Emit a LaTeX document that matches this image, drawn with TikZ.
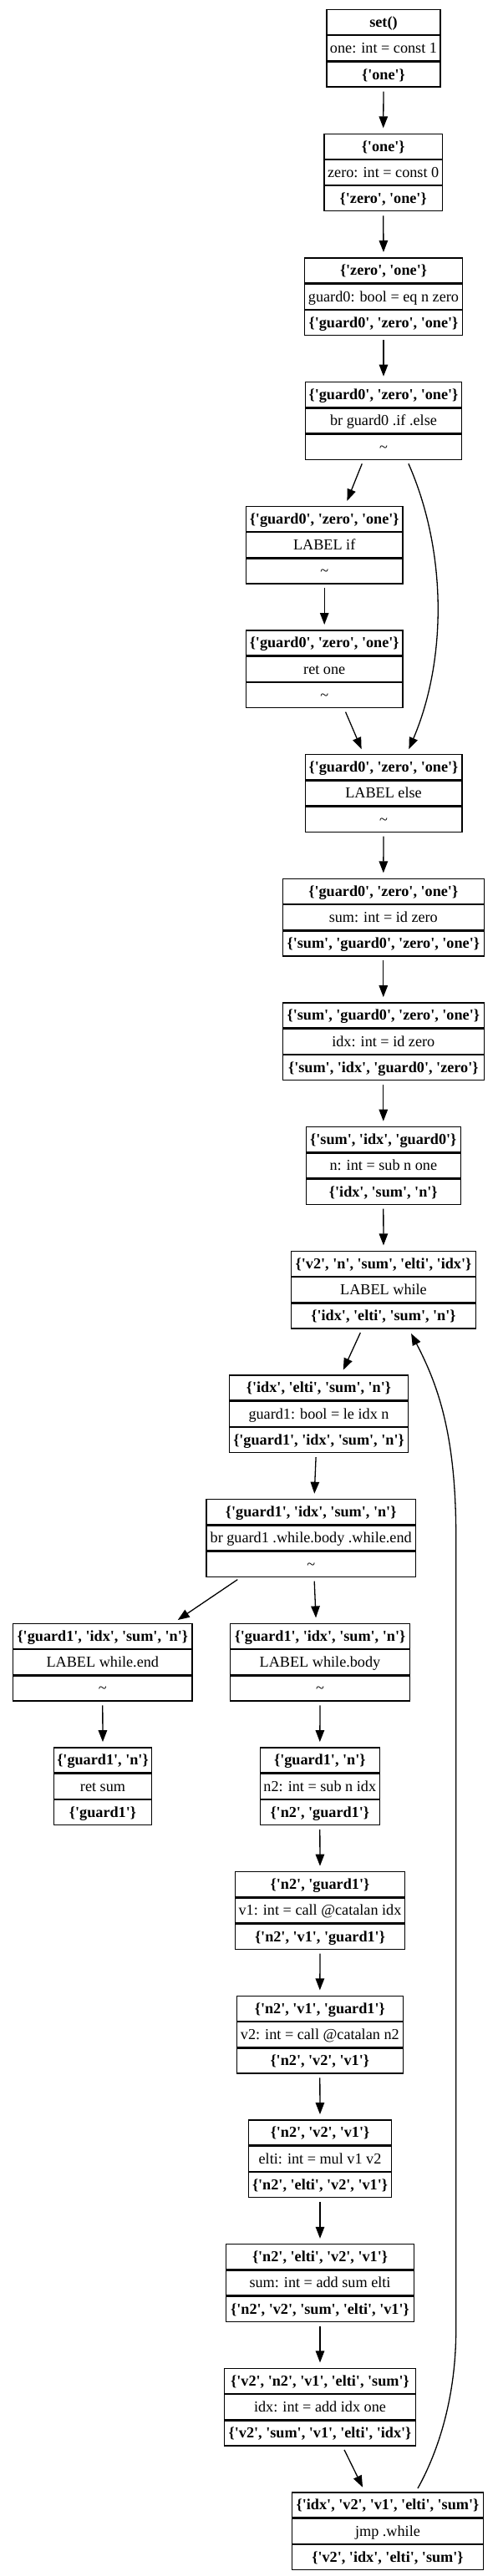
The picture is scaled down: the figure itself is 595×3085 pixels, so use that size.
\documentclass[tikz,border=0pt]{standalone}
\usepackage{fontspec}
\setmainfont{Liberation Serif}
\usetikzlibrary{matrix,arrows.meta}

\newcommand{\blkfont}{\fontsize{18.2}{22}\selectfont}
\newcommand{\lv}[1]{\textquotesingle#1\textquotesingle}
\newcommand{\nul}{\mdseries\textasciitilde}

\tikzset{
  blk/.style={matrix of nodes, anchor=north, inner sep=0pt, row sep=0pt,
    nodes={draw, line width=1.3pt, minimum width=#1, inner xsep=2pt, inner ysep=0pt,
      text height=21pt, text depth=9pt, anchor=center},
    row 1/.style={font=\blkfont\bfseries},
    row 3/.style={font=\blkfont\bfseries}},
  flow/.style={-{Triangle[length=14pt,width=10.5pt]}, line width=1.3pt,
    shorten <=4.7pt, shorten >=6pt}
}

\begin{document}
\begin{tikzpicture}[x=1pt, y=-1pt, font=\blkfont]
  \useasboundingbox (0,0) rectangle (595,3085);

  \matrix[blk=136pt] (one) at (459,10.7) {
    set() \\
    one: int = const 1 \\
    \{\lv{one}\} \\
  };
  \matrix[blk=141.3pt] (zero) at (458.7,159.4) {
    \{\lv{one}\} \\
    zero: int = const 0 \\
    \{\lv{zero}, \lv{one}\} \\
  };
  \matrix[blk=188.6pt] (guard0) at (459,308) {
    \{\lv{zero}, \lv{one}\} \\
    guard0: bool = eq n zero \\
    \{\lv{guard0}, \lv{zero}, \lv{one}\} \\
  };
  \matrix[blk=187.5pt] (br0) at (459,456.7) {
    \{\lv{guard0}, \lv{zero}, \lv{one}\} \\
    br guard0 .if .else \\
    \nul \\
  };
  \matrix[blk=187.7pt] (lif) at (388.2,605.4) {
    \{\lv{guard0}, \lv{zero}, \lv{one}\} \\
    LABEL if \\
    \nul \\
  };
  \matrix[blk=187.7pt] (retone) at (388.2,754) {
    \{\lv{guard0}, \lv{zero}, \lv{one}\} \\
    ret one \\
    \nul \\
  };
  \matrix[blk=187.7pt] (lelse) at (459,902.7) {
    \{\lv{guard0}, \lv{zero}, \lv{one}\} \\
    LABEL else \\
    \nul \\
  };
  \matrix[blk=241pt] (sum) at (458.8,1051.4) {
    \{\lv{guard0}, \lv{zero}, \lv{one}\} \\
    sum: int = id zero \\
    \{\lv{sum}, \lv{guard0}, \lv{zero}, \lv{one}\} \\
  };
  \matrix[blk=241pt] (idx) at (458.8,1200.1) {
    \{\lv{sum}, \lv{guard0}, \lv{zero}, \lv{one}\} \\
    idx: int = id zero \\
    \{\lv{sum}, \lv{idx}, \lv{guard0}, \lv{zero}\} \\
  };
  \matrix[blk=185pt] (n) at (458.8,1348.7) {
    \{\lv{sum}, \lv{idx}, \lv{guard0}\} \\
    n: int = sub n one \\
    \{\lv{idx}, \lv{sum}, \lv{n}\} \\
  };
  \matrix[blk=221.4pt] (lwhile) at (459,1497.4) {
    \{\lv{v2}, \lv{n}, \lv{sum}, \lv{elti}, \lv{idx}\} \\
    LABEL while \\
    \{\lv{idx}, \lv{elti}, \lv{sum}, \lv{n}\} \\
  };
  \matrix[blk=214.4pt] (guard1) at (381.5,1646.1) {
    \{\lv{idx}, \lv{elti}, \lv{sum}, \lv{n}\} \\
    guard1: bool = le idx n \\
    \{\lv{guard1}, \lv{idx}, \lv{sum}, \lv{n}\} \\
  };
  \matrix[blk=250.3pt] (br1) at (372.2,1794.7) {
    \{\lv{guard1}, \lv{idx}, \lv{sum}, \lv{n}\} \\
    br guard1 .while.body .while.end \\
    \nul \\
  };
  \matrix[blk=214.3pt] (lend) at (122.8,1943.4) {
    \{\lv{guard1}, \lv{idx}, \lv{sum}, \lv{n}\} \\
    LABEL while.end \\
    \nul \\
  };
  \matrix[blk=214.6pt] (lbody) at (383,1943.4) {
    \{\lv{guard1}, \lv{idx}, \lv{sum}, \lv{n}\} \\
    LABEL while.body \\
    \nul \\
  };
  \matrix[blk=117.4pt] (retsum) at (123,2092.1) {
    \{\lv{guard1}, \lv{n}\} \\
    ret sum \\
    \{\lv{guard1}\} \\
  };
  \matrix[blk=143pt] (n2) at (382.8,2092.1) {
    \{\lv{guard1}, \lv{n}\} \\
    n2: int = sub n idx \\
    \{\lv{n2}, \lv{guard1}\} \\
  };
  \matrix[blk=202.6pt] (v1) at (383,2240.7) {
    \{\lv{n2}, \lv{guard1}\} \\
    v1: int = call @catalan idx \\
    \{\lv{n2}, \lv{v1}, \lv{guard1}\} \\
  };
  \matrix[blk=199pt] (v2) at (382.8,2389.4) {
    \{\lv{n2}, \lv{v1}, \lv{guard1}\} \\
    v2: int = call @catalan n2 \\
    \{\lv{n2}, \lv{v2}, \lv{v1}\} \\
  };
  \matrix[blk=171.4pt] (elti) at (383,2538.1) {
    \{\lv{n2}, \lv{v2}, \lv{v1}\} \\
    elti: int = mul v1 v2 \\
    \{\lv{n2}, \lv{elti}, \lv{v2}, \lv{v1}\} \\
  };
  \matrix[blk=224.6pt] (sumup) at (383,2686.8) {
    \{\lv{n2}, \lv{elti}, \lv{v2}, \lv{v1}\} \\
    sum: int = add sum elti \\
    \{\lv{n2}, \lv{v2}, \lv{sum}, \lv{elti}, \lv{v1}\} \\
  };
  \matrix[blk=229.4pt] (idxup) at (383,2835.4) {
    \{\lv{v2}, \lv{n2}, \lv{v1}, \lv{elti}, \lv{sum}\} \\
    idx: int = add idx one \\
    \{\lv{v2}, \lv{sum}, \lv{v1}, \lv{elti}, \lv{idx}\} \\
  };
  \matrix[blk=229.4pt] (jmp) at (464,2984.1) {
    \{\lv{idx}, \lv{v2}, \lv{v1}, \lv{elti}, \lv{sum}\} \\
    jmp .while \\
    \{\lv{v2}, \lv{idx}, \lv{elti}, \lv{sum}\} \\
  };

  % straight flow
  \draw[flow] (one.south) -- (zero.north);
  \draw[flow] (zero.south) -- (guard0.north);
  \draw[flow] (guard0.south) -- (br0.north);
  \draw[flow] ([xshift=-24pt]br0.south) -- ([xshift=25pt]lif.north);
  \draw[flow] (lif.south) -- (retone.north);
  \draw[flow] ([xshift=23.5pt]retone.south) -- ([xshift=-24pt]lelse.north);
  \draw[flow] ([xshift=28pt]br0.south) .. controls (535,660) and (535,790) .. ([xshift=28pt]lelse.north);
  \draw[flow] (lelse.south) -- (sum.north);
  \draw[flow] (sum.south) -- (idx.north);
  \draw[flow] (idx.south) -- (n.north);
  \draw[flow] (n.south) -- (lwhile.north);
  \draw[flow] ([xshift=-25.7pt]lwhile.south) -- ([xshift=26.8pt]guard1.north);
  \draw[flow] ([xshift=-3.2pt]guard1.south) -- ([xshift=3.8pt]br1.north);
  \draw[flow] ([xshift=-84pt]br1.south) -- ([xshift=85pt]lend.north);
  \draw[flow] ([xshift=3.8pt]br1.south) -- ([xshift=-4.7pt]lbody.north);
  \draw[flow] (lend.south) -- (retsum.north);
  \draw[flow] (lbody.south) -- (n2.north);
  \draw[flow] (n2.south) -- (v1.north);
  \draw[flow] (v1.south) -- (v2.north);
  \draw[flow] (v2.south) -- (elti.north);
  \draw[flow] (elti.south) -- (sumup.north);
  \draw[flow] (sumup.south) -- (idxup.north);
  \draw[flow] ([xshift=27pt]idxup.south) -- ([xshift=-27.3pt]jmp.north);

  % loop back
  \draw[flow] ([xshift=33.7pt]jmp.north) .. controls (525,2935) and (545.7,2870) .. (545.7,2790)
    -- (545.7,1840) .. controls (545.7,1720) and (525,1660) .. ([xshift=30.3pt]lwhile.south);
\end{tikzpicture}
\end{document}
